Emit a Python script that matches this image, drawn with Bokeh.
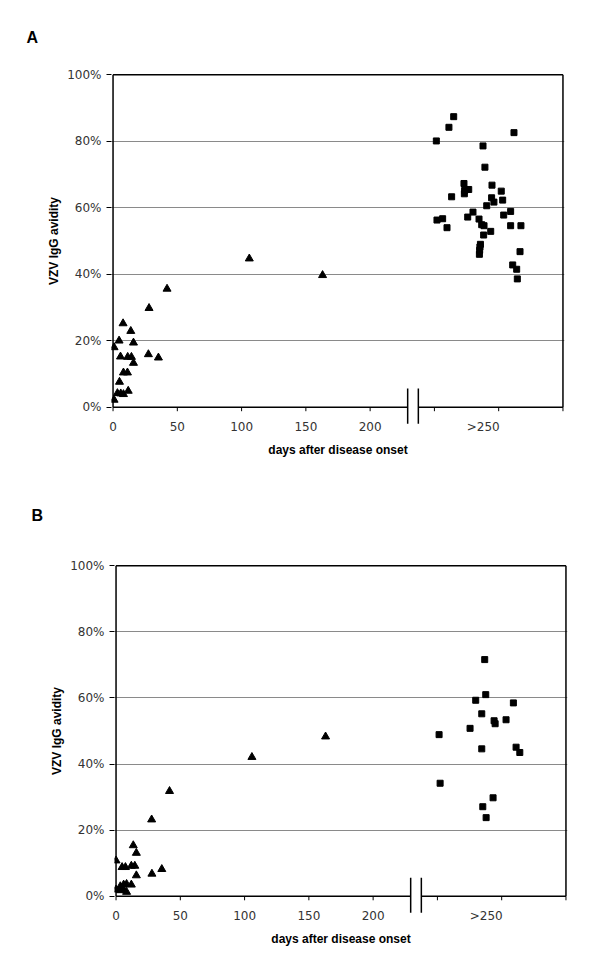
from bokeh.plotting import figure
from bokeh.models import FixedTicker, Range1d, PrintfTickFormatter
from bokeh.embed import file_html
from bokeh.resources import INLINE

# ---------------- data ----------------
# Panel A: triangles = days after onset (< 250), squares = late samples (>250, jittered)
a_tri_days = [0.8, 0.8, 3.4, 4.7, 5.0, 5.8, 6.0, 7.8, 8.1, 8.1, 11.2, 11.4, 11.8,
              13.8, 14.3, 15.9, 15.9, 27.5, 28.0, 35.3, 42.0, 106.0, 163.0]
a_tri_avid = [2.2, 18.0, 4.2, 20.0, 7.6, 15.2, 4.1, 25.2, 10.4, 3.9, 10.4, 15.1, 4.9,
              22.9, 15.1, 19.4, 13.3, 15.9, 29.8, 14.9, 35.6, 44.7, 39.7]

a_sq_days = [265.0, 261.3, 311.9, 251.5, 287.8, 289.3, 273.0, 294.8, 276.7, 273.5,
             273.3, 302.0, 263.4, 294.5, 296.3, 303.1, 290.7, 309.3, 280.0, 303.9,
             275.9, 284.7, 252.0, 256.4, 286.8, 288.6, 309.3, 317.3, 259.8, 293.8,
             288.3, 285.8, 285.4, 285.2, 285.0, 316.6, 310.9, 314.0, 314.5]
a_sq_avid = [87.4, 84.2, 82.6, 80.1, 78.6, 72.2, 67.3, 66.8, 65.5, 65.2,
             64.2, 65.0, 63.3, 63.0, 61.7, 62.3, 60.6, 58.9, 58.7, 57.8,
             57.2, 56.6, 56.3, 56.7, 54.9, 54.6, 54.6, 54.6, 54.0, 52.9,
             51.8, 49.0, 48.2, 47.2, 46.0, 46.8, 42.8, 41.5, 38.6]

# Panel B
b_tri_days = [0.0, 0.0, 3.3, 3.3, 4.7, 5.9, 5.9, 7.3, 8.2, 8.2, 11.9, 11.9, 14.6,
              13.4, 15.8, 15.8, 27.9, 27.7, 35.6, 41.6, 105.7, 163.0]
b_tri_avid = [10.8, 2.0, 3.0, 1.8, 8.8, 3.5, 2.0, 8.8, 3.7, 1.3, 9.2, 3.5, 9.2,
              15.4, 13.1, 6.3, 6.8, 23.2, 8.2, 31.8, 42.1, 48.3]

b_sq_days = [286.8, 287.6, 279.8, 309.1, 284.5, 294.1, 294.9, 303.4, 275.4, 251.3,
             284.5, 311.2, 314.1, 252.1, 293.3, 285.3, 287.9]
b_sq_avid = [71.6, 61.0, 59.3, 58.5, 55.2, 53.1, 52.2, 53.4, 50.8, 48.9,
             44.6, 45.1, 43.5, 34.2, 29.8, 27.1, 23.8]

x_label_ticks = [0, 50, 100, 150, 200]
late_label = ">250"
late_label_pos = 288
x_tick_marks = [0, 50, 100, 150, 200, 250, 300, 350]
y_ticks = [0, 20, 40, 60, 80, 100]
grid_ticks = [20, 40, 60, 80]
x_min, x_max = 0, 350
y_min, y_max = 0, 100
break_days = [229.2, 237.5]

TICK_FONT = "DejaVu Sans"
TITLE_FONT = "Liberation Sans"

PAD_X = 1.2     # small range padding (days) so border lines are not clipped
PAD_Y = 5.5     # range padding (%) so axis-break marks below the axis fit


def make_panel(letter, letter_offset, letter_standoff, tri_d, tri_v, sq_d, sq_v,
               left, top, bottom, fh):
    p = figure(frame_width=453, frame_height=fh,
               x_range=Range1d(x_min - PAD_X, x_max + PAD_X),
               y_range=Range1d(y_min - PAD_Y, y_max + PAD_Y),
               output_backend="svg", toolbar_location=None,
               min_border_left=left, min_border_top=top,
               min_border_bottom=bottom, min_border_right=20,
               outline_line_color=None,
               background_fill_color="white", border_fill_color="white")

    # panel letter as title
    p.title.text = letter
    p.title.align = "left"
    p.title.offset = letter_offset
    p.title.standoff = letter_standoff
    p.title.text_font = TITLE_FONT
    p.title.text_font_style = "bold"
    p.title.text_font_size = "16px"
    p.title.text_color = "black"

    # grid
    p.xgrid.visible = False
    p.ygrid.ticker = FixedTicker(ticks=grid_ticks)
    p.ygrid.grid_line_color = "#8a8a8a"
    p.ygrid.grid_line_width = 1

    # x axis (labels only; line/ticks drawn at the 0% level below)
    xa = p.xaxis[0]
    xa.ticker = FixedTicker(ticks=x_label_ticks + [late_label_pos])
    xa.major_label_overrides = {late_label_pos: late_label}
    xa.major_tick_line_color = None
    xa.minor_tick_line_color = None
    xa.major_tick_out = 0
    xa.major_tick_in = 0
    xa.axis_line_color = None
    xa.major_label_standoff = -6
    xa.major_label_text_font = TICK_FONT
    xa.major_label_text_font_size = "12px"
    xa.major_label_text_color = "#333333"
    xa.axis_label = "days after disease onset"
    xa.axis_label_text_font = TITLE_FONT
    xa.axis_label_text_font_style = "bold"
    xa.axis_label_text_font_size = "12px"
    xa.axis_label_text_color = "black"
    xa.axis_label_standoff = 6

    # y axis
    ya = p.yaxis[0]
    ya.ticker = FixedTicker(ticks=y_ticks)
    ya.formatter = PrintfTickFormatter(format="%d%%")
    ya.minor_tick_line_color = None
    ya.major_tick_out = 5
    ya.major_tick_in = 0
    ya.major_tick_line_color = "black"
    ya.axis_line_color = None
    ya.major_label_standoff = 5
    ya.major_label_text_font = TICK_FONT
    ya.major_label_text_font_size = "12px"
    ya.major_label_text_color = "#333333"
    ya.axis_label = "VZV IgG avidity"
    ya.axis_label_text_font = TITLE_FONT
    ya.axis_label_text_font_style = "bold"
    ya.axis_label_text_font_size = "12px"
    ya.axis_label_text_color = "black"
    ya.axis_label_standoff = 3

    # plot box: left axis, top and right borders
    p.segment(x0=[x_min, x_min, x_max], y0=[y_min, y_max, y_min],
              x1=[x_min, x_max, x_max], y1=[y_max, y_max, y_max],
              line_color="black", line_width=1.5)
    # broken x axis line
    p.segment(x0=[x_min, break_days[1]], y0=[y_min, y_min],
              x1=[break_days[0], x_max], y1=[y_min, y_min],
              line_color="black", line_width=1.5)
    # x tick marks (outside, below the axis)
    tick_len = 1.2
    p.segment(x0=x_tick_marks, y0=[y_min] * len(x_tick_marks),
              x1=x_tick_marks, y1=[y_min - tick_len] * len(x_tick_marks),
              line_color="black", line_width=1)
    # axis break marks
    p.segment(x0=break_days, y0=[y_min - 5.0] * 2, x1=break_days, y1=[y_min + 5.6] * 2,
              line_color="black", line_width=1.5)

    # data
    p.scatter(tri_d, tri_v, marker="triangle", size=8, color="black")
    p.scatter(sq_d, sq_v, marker="square", size=6, color="black")
    return p


pa = make_panel("A", -85, 22, a_tri_days, a_tri_avid, a_sq_days, a_sq_avid,
                left=111, top=56, bottom=52, fh=369)
pb = make_panel("B", -83, 48, b_tri_days, b_tri_avid, b_sq_days, b_sq_avid,
                left=114, top=70, bottom=40, fh=367)

open("out.html", "w").write(file_html([pa, pb], INLINE))
